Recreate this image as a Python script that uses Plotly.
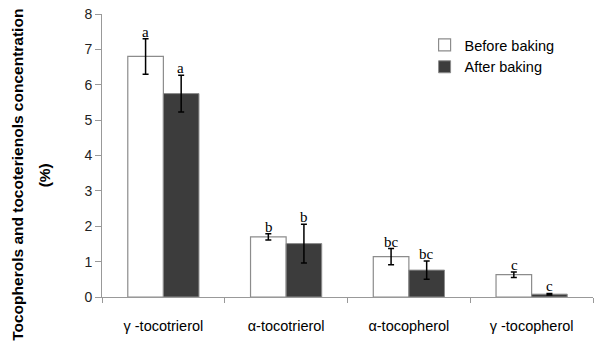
import plotly.graph_objects as go

categories = ["γ -tocotrierol", "α-tocotrierol", "α-tocopherol", "γ -tocopherol"]
before = [6.8, 1.7, 1.14, 0.63]
before_err = [0.5, 0.09, 0.23, 0.08]
after = [5.75, 1.51, 0.76, 0.08]
after_err = [0.52, 0.55, 0.26, 0.02]
before_letters = ["a", "b", "bc", "c"]
after_letters = ["a", "b", "bc", "c"]
yticks = [0, 1, 2, 3, 4, 5, 6, 7, 8]
ytitle_line1 = "Tocopherols and tocoterienols concentration"
ytitle_line2 = "(%)"

letter_font = dict(family="Times New Roman, Liberation Serif, serif", size=15, color="black")

fig = go.Figure()
fig.add_trace(go.Bar(
    x=categories, y=before, name="Before baking",
    marker=dict(color="white", line=dict(color="#8c8c8c", width=1.2)),
    error_y=dict(type="data", array=before_err, color="black", thickness=1.5, width=3),
))
fig.add_trace(go.Bar(
    x=categories, y=after, name="After baking",
    marker=dict(color="#3c3c3c", line=dict(color="#8c8c8c", width=1)),
    error_y=dict(type="data", array=after_err, color="black", thickness=1.5, width=3),
))

for cat, v, e, lab in zip(categories, before, before_err, before_letters):
    fig.add_annotation(x=cat, y=v + e, text=lab, showarrow=False, yanchor="bottom",
                       xshift=-17.5, yshift=-3, font=letter_font)
for cat, v, e, lab in zip(categories, after, after_err, after_letters):
    fig.add_annotation(x=cat, y=v + e, text=lab, showarrow=False, yanchor="bottom",
                       xshift=17.5, yshift=-3, font=letter_font)

title_font = dict(family="Arial, Liberation Sans, sans-serif", size=15.5, color="black")
fig.add_annotation(xref="paper", yref="paper", x=-0.171, y=0.432, text="<b>" + ytitle_line1 + "</b>",
                   textangle=-90, showarrow=False, xanchor="center", yanchor="middle", font=title_font)
fig.add_annotation(xref="paper", yref="paper", x=-0.118, y=0.43, text="<b>" + ytitle_line2 + "</b>",
                   textangle=-90, showarrow=False, xanchor="center", yanchor="middle", font=title_font)

fig.update_layout(
    width=600, height=351,
    margin=dict(l=102, r=7, t=14, b=54, autoexpand=False),
    paper_bgcolor="white", plot_bgcolor="white",
    barmode="group", bargap=0.42, bargroupgap=0,
    font=dict(family="Arial, Liberation Sans, sans-serif", size=14, color="#222"),
    showlegend=True,
    legend=dict(x=0.657, y=0.947, xanchor="left", yanchor="top",
                font=dict(size=14.5, color="black"), bgcolor="rgba(0,0,0,0)",
                tracegroupgap=0),
    xaxis=dict(showline=True, linecolor="#999", linewidth=1, ticks="outside",
               tickson="boundaries", ticklen=5, tickcolor="#999", automargin=False,
               showgrid=False, tickfont=dict(size=14.5, color="black"), ticklabelstandoff=16),
    yaxis=dict(range=[0, 8], tickvals=yticks, showline=True, linecolor="#999",
               linewidth=1, ticks="outside", ticklen=6, tickcolor="#999", automargin=False,
               showgrid=False, zeroline=False, tickfont=dict(size=14, color="#222")),
)

fig.write_html("out.html", config={"displayModeBar": False},
               post_script="document.body.style.margin='0';document.body.style.padding='0';")
